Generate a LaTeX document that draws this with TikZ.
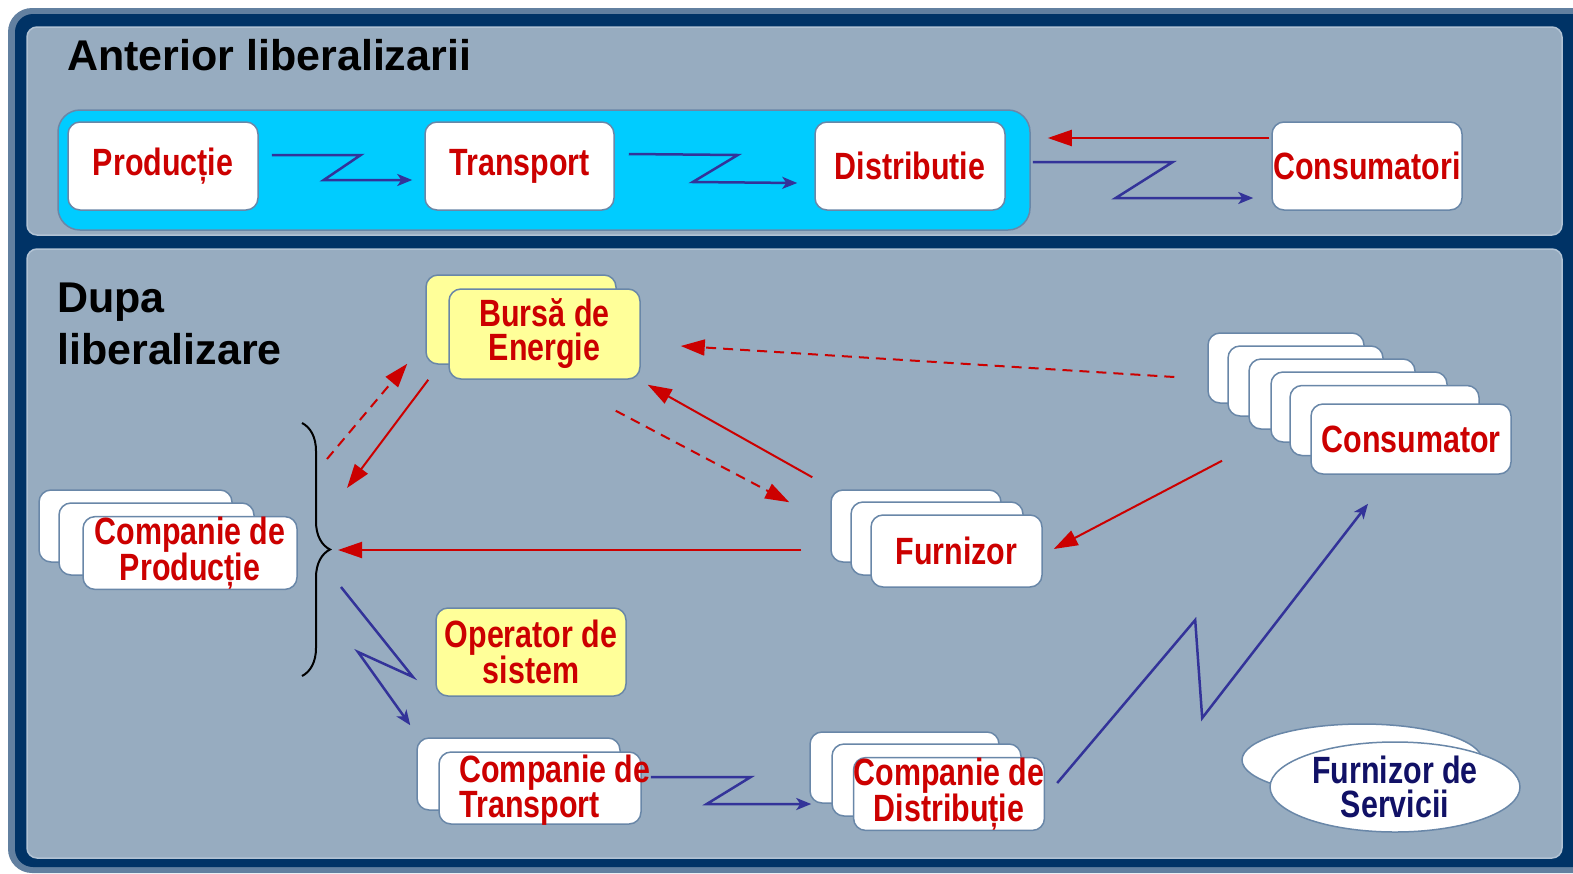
\documentclass[tikz,border=0pt]{standalone}
\usepackage{fontspec}
\setmainfont{Liberation Sans}
\newfontfamily\narrowsans[FakeStretch=0.8]{Liberation Sans}
\usetikzlibrary{positioning, calc, arrows.meta, shapes.geometric, decorations.pathreplacing}

\definecolor{frameedge}{RGB}{98,128,160}
\definecolor{framenavy}{RGB}{0,51,102}
\definecolor{panelgrey}{RGB}{151,172,192}
\definecolor{panelline}{RGB}{178,195,212}
\definecolor{bandcyan}{RGB}{0,204,255}
\definecolor{cardline}{RGB}{105,135,168}
\definecolor{marketyellow}{RGB}{255,255,153}
\definecolor{labelred}{RGB}{204,0,0}
\definecolor{flowred}{RGB}{204,0,0}
\definecolor{wireblue}{RGB}{51,51,153}
\definecolor{servnavy}{RGB}{17,17,102}

\begin{document}
\begin{tikzpicture}[x=1pt, y=-1pt,
	card/.style={draw=cardline, line width=1.5pt, fill=white, rounded corners=12pt, inner sep=0pt},
	yellowcard/.style={card, fill=marketyellow},
	lbl/.style={font=\narrowsans\bfseries\fontsize{38}{34}\selectfont, text=labelred, align=center},
	heading/.style={font=\bfseries\fontsize{43}{52}\selectfont, inner sep=0pt},
	wire/.style={draw=wireblue, line width=2.5pt, -{Stealth[length=15pt, width=12pt, inset=4pt]}},
	flow/.style={draw=flowred, line width=2pt, -{Triangle[length=24pt, width=16pt]}},
	flowdash/.style={flow, dash pattern=on 10pt off 7pt},
]
		% frame and the two panels
		\useasboundingbox (0,0) rectangle (1573,873);
		\fill[white] (0,0) rectangle (1573,873);
		\fill[frameedge, rounded corners=24pt] (8,8) rectangle (1620,873);
		\fill[framenavy, rounded corners=18pt] (15,14) rectangle (1620,867);
		\draw[fill=panelgrey, draw=panelline, line width=1.5pt, rounded corners=10pt] (27,27) rectangle (1562,235);
		\draw[fill=panelgrey, draw=panelline, line width=1.5pt, rounded corners=10pt] (27,249) rectangle (1562,858);
		
		% before
		\node[heading, anchor=west] (before) at (67,55) {Anterior liberalizarii};
		\node[card, fill=bandcyan, rounded corners=22pt, minimum width=972pt, minimum height=120pt] (band) at (544,170) {};
		\node[card, lbl, minimum width=190pt, minimum height=88pt] (prod) at (163,166) {Producție};
		\node[card, lbl, minimum width=189pt, minimum height=88pt] (trans) at (519.5,166) {Transport};
		\node[card, lbl, minimum width=190pt, minimum height=88pt] (dist) at (910,166) {Distributie};
		\node[card, lbl, minimum width=190pt, minimum height=88pt] (cons) at (1367,166) {Consumatori};
		
		\draw[wire] ($(prod.east)+(13,-11)$) -- ++(89,0) -- ++(-37,25) -- ($(trans.west)+(-12,14)$);
		\draw[wire] ($(trans.east)+(14,-12)$) -- ++(109,1) -- ++(-45,27) -- ($(dist.west)+(-17,17)$);
		\draw[wire] ($(band.east)+(2,-8)$) -- ++(140,0) -- ++(-57,36) -- ($(cons.west)+(-18,32)$);
		\draw[flow] ($(cons.west)+(-2,-28)$) -- ($(band.east)+(17,-32)$);
		
		% after
		\node[heading, anchor=north west, align=left] (after) at (57,283) {Dupa\\liberalizare};
		
		\node[yellowcard, minimum width=190pt, minimum height=89pt] (bourseB) at (521,319.5) {};
		\node[yellowcard, lbl, minimum width=191pt, minimum height=90pt] (bourse) at (544.5,334) {Bursă de\\Energie};
		
		\node[card, minimum width=193pt, minimum height=72pt] (gencoA) at (135.5,526) {};
		\node[card, minimum width=195pt, minimum height=72pt] (gencoB) at (156.5,539) {};
		\node[card, lbl, minimum width=214pt, minimum height=72pt] (genco) at (190,553) {Companie de\\Producție};
		
		\node[yellowcard, lbl, minimum width=190pt, minimum height=88pt] (sysop) at (531,652) {Operator de\\sistem};
		
		\node[card, minimum width=203pt, minimum height=72pt] (tsoA) at (518.5,774) {};
		\node[card, minimum width=202pt, minimum height=72pt,
			label={[lbl, align=left, anchor=west, inner sep=0pt, xshift=21pt, yshift=-2pt]west:Companie de\\Transport}] (tso) at (540,788) {};
		
		\node[card, minimum width=189pt, minimum height=71pt] (dsoA) at (904.5,767.5) {};
		\node[card, minimum width=189pt, minimum height=72pt] (dsoB) at (926.5,780) {};
		\node[card, lbl, minimum width=188pt, minimum height=72pt] (dso) at (949,794) {Companie de\\Distribuție};
		
		\node[card, minimum width=170pt, minimum height=72pt] (suppA) at (916,526) {};
		\node[card, minimum width=172pt, minimum height=73pt] (suppB) at (937,538.5) {};
		\node[card, lbl, minimum width=171pt, minimum height=72pt] (supp) at (956.5,551) {Furnizor};
		
		\foreach \cx/\cy/\w [count=\i] in {1286/368/156, 1305.5/381/155, 1332/394/166, 1359/407/176, 1384.5/420.5/189}
			\node[card, minimum width=\w pt, minimum height=70pt] (user\i) at (\cx,\cy) {};
		\node[card, lbl, minimum width=200pt, minimum height=70pt] (user) at (1411,439) {Consumator};
		
		\node[ellipse, draw=cardline, line width=1.5pt, fill=white, minimum width=240pt, minimum height=72pt] (servB) at (1362,760) {};
		\node[ellipse, draw=cardline, line width=1.5pt, fill=white, minimum width=250pt, minimum height=90pt,
			label={[lbl, text=servnavy]center:Furnizor de\\Servicii}] (serv) at (1395,787) {};
		
		% brace in front of the producers
		\coordinate (fork) at (338,550);
		\draw[line width=2pt, decorate, decoration={brace, amplitude=28pt}] (302,423) -- (302,676);
		
		\draw[flowdash] ($(fork)+(-11,-91)$) -- ($(bourse.south west)+(-41,-16)$);
		\draw[flow] ($(bourse.south west)+(-20,0)$) -- ($(fork)+(9,-62)$);
		\draw[flow] ($(suppA.north west)+(-18,-12)$) -- ($(bourse.south east)+(7,5)$);
		\draw[flowdash] ($(bourse.south east)+(-25,31)$) -- ($(suppA.north west)+(-41,13)$);
		\draw[flowdash] ($(user1.west)+(-33,9)$) -- ($(bourse.east)+(40,12)$);
		\draw[flow] ($(suppA.west)+(-29,24)$) -- (fork);
		\draw[flow] ($(user1.south)+(-64,57)$) -- ($(supp.east)+(11,-2)$);
		
		\draw[wire] ($(fork)+(3,37)$) -- ++(72,90) -- ++(-55,-25) -- ($(tsoA.north west)+(-6,-12)$);
		\draw[wire] ($(tso.east)+(9,-11)$) -- ++(100,0) -- ++(-44,27) -- ($(dsoB.west)+(-20,24)$);
		\draw[wire] ($(dso.east)+(12,-11)$) -- ++(138,-163) -- ++(7,98) -- ($(user.south)+(-43,29)$);
		
\end{tikzpicture}
\end{document}
